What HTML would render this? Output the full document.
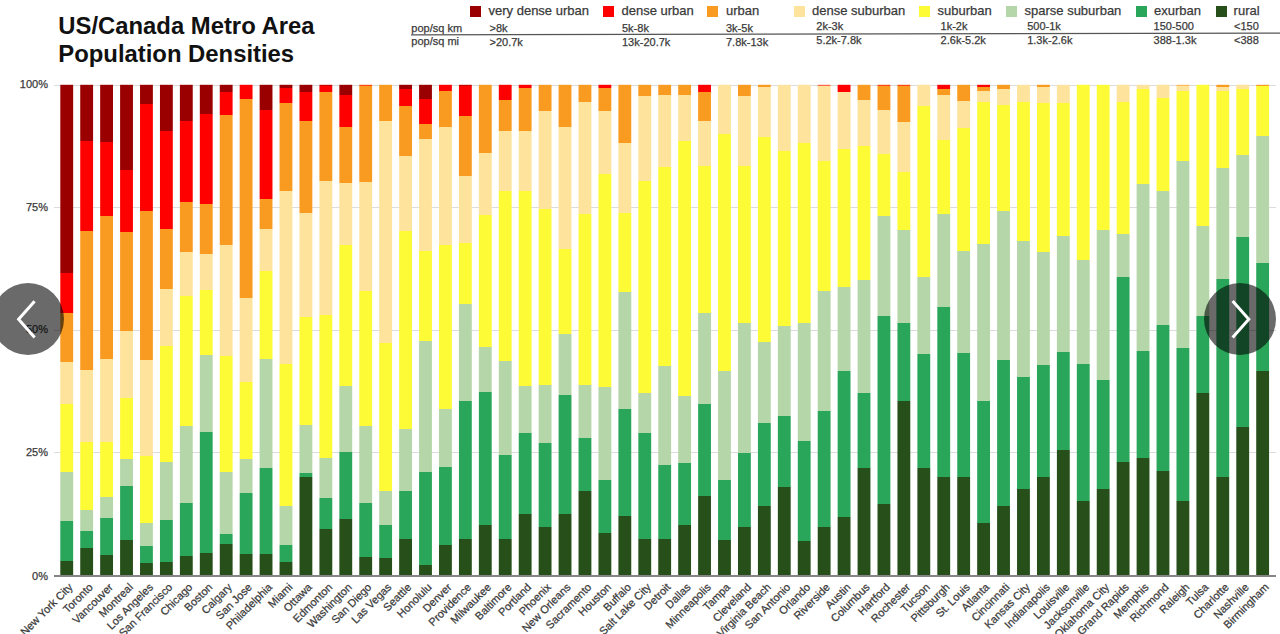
<!DOCTYPE html>
<html><head><meta charset="utf-8"><style>
*{margin:0;padding:0;box-sizing:border-box}
html,body{width:1280px;height:634px;overflow:hidden;background:#fff}
body{position:relative;font-family:"Liberation Sans",sans-serif;color:#3a3a3a}
.lg,.r1,.r2,.yl,.cl{-webkit-text-stroke:0.25px #3a3a3a}
.a{position:absolute;white-space:nowrap}
.t{position:absolute;left:58.3px;font-weight:bold;font-size:23.85px;color:#111;line-height:28px}
.sq{position:absolute;top:6px;width:11px;height:11px}
.lg{position:absolute;top:3px;font-size:13px;line-height:16px;color:#3a3a3a}
.r1,.r2{position:absolute;font-size:11px;line-height:13px;color:#3a3a3a}
.g{position:absolute;left:54px;width:1222px;height:1px;background:#dcdcdc}
.yl{position:absolute;width:40px;left:8px;text-align:right;font-size:11px;line-height:13px;color:#3a3a3a}
.b{position:absolute;width:12.85px}
.s{position:absolute;left:0;width:100%}
.cl{position:absolute;white-space:nowrap;font-size:11px;line-height:14px;color:#3a3a3a;transform-origin:100% 50%;transform:rotate(-45deg);text-align:right}
</style></head><body>

<div class="t" style="top:12px">US/Canada Metro Area</div>
<div class="t" style="top:40px">Population Densities</div>
<div class="sq" style="left:470.0px;background:#9b0000"></div>
<div class="lg" style="left:488.5px">very dense urban</div>
<div class="r1" style="left:489.5px;top:21.9px">&gt;8k</div>
<div class="r2" style="left:489.5px;top:35.6px">&gt;20.7k</div>
<div class="sq" style="left:603.0px;background:#ff0000"></div>
<div class="lg" style="left:621.5px">dense urban</div>
<div class="r1" style="left:622.0px;top:21.9px">5k-8k</div>
<div class="r2" style="left:622.0px;top:35.6px">13k-20.7k</div>
<div class="sq" style="left:707.0px;background:#f99b21"></div>
<div class="lg" style="left:726.0px">urban</div>
<div class="r1" style="left:726.0px;top:21.9px">3k-5k</div>
<div class="r2" style="left:726.0px;top:35.6px">7.8k-13k</div>
<div class="sq" style="left:794.0px;background:#fde39b"></div>
<div class="lg" style="left:812.0px">dense suburban</div>
<div class="r1" style="left:816.3px;top:20.1px">2k-3k</div>
<div class="r2" style="left:816.3px;top:33.9px">5.2k-7.8k</div>
<div class="sq" style="left:919.0px;background:#fdfb35"></div>
<div class="lg" style="left:937.5px">suburban</div>
<div class="r1" style="left:940.6px;top:20.1px">1k-2k</div>
<div class="r2" style="left:940.6px;top:33.9px">2.6k-5.2k</div>
<div class="sq" style="left:1006.0px;background:#b5d6a8"></div>
<div class="lg" style="left:1024.5px">sparse suburban</div>
<div class="r1" style="left:1027.2px;top:20.1px">500-1k</div>
<div class="r2" style="left:1027.2px;top:33.9px">1.3k-2.6k</div>
<div class="sq" style="left:1135.6px;background:#2aa65a"></div>
<div class="lg" style="left:1154.0px">exurban</div>
<div class="r1" style="left:1153.6px;top:20.1px">150-500</div>
<div class="r2" style="left:1153.6px;top:33.9px">388-1.3k</div>
<div class="sq" style="left:1215.5px;background:#264f19"></div>
<div class="lg" style="left:1233.6px">rural</div>
<div class="r1" style="left:1234.0px;top:20.1px">&lt;150</div>
<div class="r2" style="left:1234.0px;top:33.9px">&lt;388</div>
<div class="r1" style="left:411.3px;top:21.6px">pop/sq km</div>
<div class="r2" style="left:411.3px;top:35.4px">pop/sq mi</div>
<svg class="a" style="left:0;top:0" width="1280" height="60"><line x1="411" y1="34.9" x2="1280" y2="33.1" stroke="#555" stroke-width="1.3"/></svg>
<div class="g" style="top:84.5px"></div>
<div class="yl" style="top:78.0px">100%</div>
<div class="g" style="top:207.0px"></div>
<div class="yl" style="top:200.5px">75%</div>
<div class="g" style="top:329.8px"></div>
<div class="yl" style="top:323.3px">50%</div>
<div class="g" style="top:452.2px"></div>
<div class="yl" style="top:445.7px">25%</div>
<div class="yl" style="top:569.5px">0%</div>
<svg class="a" style="left:0;top:0" width="1280" height="634" viewBox="0 0 1280 634"><defs><linearGradient id="g0" x1="0" y1="0" x2="0" y2="1"><stop offset="0.00000" stop-color="#9b0000"/><stop offset="0.38328" stop-color="#9b0000"/><stop offset="0.38328" stop-color="#ff0000"/><stop offset="0.46565" stop-color="#ff0000"/><stop offset="0.46565" stop-color="#f99b21"/><stop offset="0.56595" stop-color="#f99b21"/><stop offset="0.56595" stop-color="#fde39b"/><stop offset="0.65138" stop-color="#fde39b"/><stop offset="0.65138" stop-color="#fdfb35"/><stop offset="0.79021" stop-color="#fdfb35"/><stop offset="0.79021" stop-color="#b5d6a8"/><stop offset="0.88970" stop-color="#b5d6a8"/><stop offset="0.88970" stop-color="#2aa65a"/><stop offset="0.97023" stop-color="#2aa65a"/><stop offset="0.97023" stop-color="#264f19"/><stop offset="1.00000" stop-color="#264f19"/></linearGradient><linearGradient id="g1" x1="0" y1="0" x2="0" y2="1"><stop offset="0.00000" stop-color="#9b0000"/><stop offset="0.11376" stop-color="#9b0000"/><stop offset="0.11376" stop-color="#ff0000"/><stop offset="0.29745" stop-color="#ff0000"/><stop offset="0.29745" stop-color="#f99b21"/><stop offset="0.58145" stop-color="#f99b21"/><stop offset="0.58145" stop-color="#fde39b"/><stop offset="0.72824" stop-color="#fde39b"/><stop offset="0.72824" stop-color="#fdfb35"/><stop offset="0.86728" stop-color="#fdfb35"/><stop offset="0.86728" stop-color="#b5d6a8"/><stop offset="0.91009" stop-color="#b5d6a8"/><stop offset="0.91009" stop-color="#2aa65a"/><stop offset="0.94353" stop-color="#2aa65a"/><stop offset="0.94353" stop-color="#264f19"/><stop offset="1.00000" stop-color="#264f19"/></linearGradient><linearGradient id="g2" x1="0" y1="0" x2="0" y2="1"><stop offset="0.00000" stop-color="#9b0000"/><stop offset="0.11723" stop-color="#9b0000"/><stop offset="0.11723" stop-color="#ff0000"/><stop offset="0.26809" stop-color="#ff0000"/><stop offset="0.26809" stop-color="#f99b21"/><stop offset="0.55984" stop-color="#f99b21"/><stop offset="0.55984" stop-color="#fde39b"/><stop offset="0.72762" stop-color="#fde39b"/><stop offset="0.72762" stop-color="#fdfb35"/><stop offset="0.84057" stop-color="#fdfb35"/><stop offset="0.84057" stop-color="#b5d6a8"/><stop offset="0.88400" stop-color="#b5d6a8"/><stop offset="0.88400" stop-color="#2aa65a"/><stop offset="0.95923" stop-color="#2aa65a"/><stop offset="0.95923" stop-color="#264f19"/><stop offset="1.00000" stop-color="#264f19"/></linearGradient><linearGradient id="g3" x1="0" y1="0" x2="0" y2="1"><stop offset="0.00000" stop-color="#9b0000"/><stop offset="0.17390" stop-color="#9b0000"/><stop offset="0.17390" stop-color="#ff0000"/><stop offset="0.29990" stop-color="#ff0000"/><stop offset="0.29990" stop-color="#f99b21"/><stop offset="0.50173" stop-color="#f99b21"/><stop offset="0.50173" stop-color="#fde39b"/><stop offset="0.63792" stop-color="#fde39b"/><stop offset="0.63792" stop-color="#fdfb35"/><stop offset="0.76310" stop-color="#fdfb35"/><stop offset="0.76310" stop-color="#b5d6a8"/><stop offset="0.81794" stop-color="#b5d6a8"/><stop offset="0.81794" stop-color="#2aa65a"/><stop offset="0.92864" stop-color="#2aa65a"/><stop offset="0.92864" stop-color="#264f19"/><stop offset="1.00000" stop-color="#264f19"/></linearGradient><linearGradient id="g4" x1="0" y1="0" x2="0" y2="1"><stop offset="0.00000" stop-color="#9b0000"/><stop offset="0.03833" stop-color="#9b0000"/><stop offset="0.03833" stop-color="#ff0000"/><stop offset="0.25627" stop-color="#ff0000"/><stop offset="0.25627" stop-color="#f99b21"/><stop offset="0.56188" stop-color="#f99b21"/><stop offset="0.56188" stop-color="#fde39b"/><stop offset="0.75657" stop-color="#fde39b"/><stop offset="0.75657" stop-color="#fdfb35"/><stop offset="0.89317" stop-color="#fdfb35"/><stop offset="0.89317" stop-color="#b5d6a8"/><stop offset="0.94006" stop-color="#b5d6a8"/><stop offset="0.94006" stop-color="#2aa65a"/><stop offset="0.97554" stop-color="#2aa65a"/><stop offset="0.97554" stop-color="#264f19"/><stop offset="1.00000" stop-color="#264f19"/></linearGradient><linearGradient id="g5" x1="0" y1="0" x2="0" y2="1"><stop offset="0.00000" stop-color="#9b0000"/><stop offset="0.09337" stop-color="#9b0000"/><stop offset="0.09337" stop-color="#ff0000"/><stop offset="0.29378" stop-color="#ff0000"/><stop offset="0.29378" stop-color="#f99b21"/><stop offset="0.41672" stop-color="#f99b21"/><stop offset="0.41672" stop-color="#fde39b"/><stop offset="0.53252" stop-color="#fde39b"/><stop offset="0.53252" stop-color="#fdfb35"/><stop offset="0.76881" stop-color="#fdfb35"/><stop offset="0.76881" stop-color="#b5d6a8"/><stop offset="0.88746" stop-color="#b5d6a8"/><stop offset="0.88746" stop-color="#2aa65a"/><stop offset="0.97370" stop-color="#2aa65a"/><stop offset="0.97370" stop-color="#264f19"/><stop offset="1.00000" stop-color="#264f19"/></linearGradient><linearGradient id="g6" x1="0" y1="0" x2="0" y2="1"><stop offset="0.00000" stop-color="#9b0000"/><stop offset="0.07401" stop-color="#9b0000"/><stop offset="0.07401" stop-color="#ff0000"/><stop offset="0.23812" stop-color="#ff0000"/><stop offset="0.23812" stop-color="#f99b21"/><stop offset="0.34108" stop-color="#f99b21"/><stop offset="0.34108" stop-color="#fde39b"/><stop offset="0.43119" stop-color="#fde39b"/><stop offset="0.43119" stop-color="#fdfb35"/><stop offset="0.69582" stop-color="#fdfb35"/><stop offset="0.69582" stop-color="#b5d6a8"/><stop offset="0.85219" stop-color="#b5d6a8"/><stop offset="0.85219" stop-color="#2aa65a"/><stop offset="0.96045" stop-color="#2aa65a"/><stop offset="0.96045" stop-color="#264f19"/><stop offset="1.00000" stop-color="#264f19"/></linearGradient><linearGradient id="g7" x1="0" y1="0" x2="0" y2="1"><stop offset="0.00000" stop-color="#9b0000"/><stop offset="0.05872" stop-color="#9b0000"/><stop offset="0.05872" stop-color="#ff0000"/><stop offset="0.24343" stop-color="#ff0000"/><stop offset="0.24343" stop-color="#f99b21"/><stop offset="0.34475" stop-color="#f99b21"/><stop offset="0.34475" stop-color="#fde39b"/><stop offset="0.41835" stop-color="#fde39b"/><stop offset="0.41835" stop-color="#fdfb35"/><stop offset="0.55046" stop-color="#fdfb35"/><stop offset="0.55046" stop-color="#b5d6a8"/><stop offset="0.70744" stop-color="#b5d6a8"/><stop offset="0.70744" stop-color="#2aa65a"/><stop offset="0.95515" stop-color="#2aa65a"/><stop offset="0.95515" stop-color="#264f19"/><stop offset="1.00000" stop-color="#264f19"/></linearGradient><linearGradient id="g8" x1="0" y1="0" x2="0" y2="1"><stop offset="0.00000" stop-color="#9b0000"/><stop offset="0.01529" stop-color="#9b0000"/><stop offset="0.01529" stop-color="#ff0000"/><stop offset="0.06075" stop-color="#ff0000"/><stop offset="0.06075" stop-color="#f99b21"/><stop offset="0.32559" stop-color="#f99b21"/><stop offset="0.32559" stop-color="#fde39b"/><stop offset="0.55209" stop-color="#fde39b"/><stop offset="0.55209" stop-color="#fdfb35"/><stop offset="0.79021" stop-color="#fdfb35"/><stop offset="0.79021" stop-color="#b5d6a8"/><stop offset="0.91580" stop-color="#b5d6a8"/><stop offset="0.91580" stop-color="#2aa65a"/><stop offset="0.93619" stop-color="#2aa65a"/><stop offset="0.93619" stop-color="#264f19"/><stop offset="1.00000" stop-color="#264f19"/></linearGradient><linearGradient id="g9" x1="0" y1="0" x2="0" y2="1"><stop offset="0.00000" stop-color="#ff0000"/><stop offset="0.02895" stop-color="#ff0000"/><stop offset="0.02895" stop-color="#f99b21"/><stop offset="0.43364" stop-color="#f99b21"/><stop offset="0.43364" stop-color="#fde39b"/><stop offset="0.60612" stop-color="#fde39b"/><stop offset="0.60612" stop-color="#fdfb35"/><stop offset="0.76310" stop-color="#fdfb35"/><stop offset="0.76310" stop-color="#b5d6a8"/><stop offset="0.83242" stop-color="#b5d6a8"/><stop offset="0.83242" stop-color="#2aa65a"/><stop offset="0.95698" stop-color="#2aa65a"/><stop offset="0.95698" stop-color="#264f19"/><stop offset="1.00000" stop-color="#264f19"/></linearGradient><linearGradient id="g10" x1="0" y1="0" x2="0" y2="1"><stop offset="0.00000" stop-color="#9b0000"/><stop offset="0.05117" stop-color="#9b0000"/><stop offset="0.05117" stop-color="#ff0000"/><stop offset="0.23201" stop-color="#ff0000"/><stop offset="0.23201" stop-color="#f99b21"/><stop offset="0.29378" stop-color="#f99b21"/><stop offset="0.29378" stop-color="#fde39b"/><stop offset="0.38063" stop-color="#fde39b"/><stop offset="0.38063" stop-color="#fdfb35"/><stop offset="0.55984" stop-color="#fdfb35"/><stop offset="0.55984" stop-color="#b5d6a8"/><stop offset="0.78043" stop-color="#b5d6a8"/><stop offset="0.78043" stop-color="#2aa65a"/><stop offset="0.95698" stop-color="#2aa65a"/><stop offset="0.95698" stop-color="#264f19"/><stop offset="1.00000" stop-color="#264f19"/></linearGradient><linearGradient id="g11" x1="0" y1="0" x2="0" y2="1"><stop offset="0.00000" stop-color="#9b0000"/><stop offset="0.00754" stop-color="#9b0000"/><stop offset="0.00754" stop-color="#ff0000"/><stop offset="0.03812" stop-color="#ff0000"/><stop offset="0.03812" stop-color="#f99b21"/><stop offset="0.21651" stop-color="#f99b21"/><stop offset="0.21651" stop-color="#fde39b"/><stop offset="0.56860" stop-color="#fde39b"/><stop offset="0.56860" stop-color="#fdfb35"/><stop offset="0.85973" stop-color="#fdfb35"/><stop offset="0.85973" stop-color="#b5d6a8"/><stop offset="0.93904" stop-color="#b5d6a8"/><stop offset="0.93904" stop-color="#2aa65a"/><stop offset="0.97248" stop-color="#2aa65a"/><stop offset="0.97248" stop-color="#264f19"/><stop offset="1.00000" stop-color="#264f19"/></linearGradient><linearGradient id="g12" x1="0" y1="0" x2="0" y2="1"><stop offset="0.00000" stop-color="#9b0000"/><stop offset="0.01529" stop-color="#9b0000"/><stop offset="0.01529" stop-color="#ff0000"/><stop offset="0.07360" stop-color="#ff0000"/><stop offset="0.07360" stop-color="#f99b21"/><stop offset="0.26177" stop-color="#f99b21"/><stop offset="0.26177" stop-color="#fde39b"/><stop offset="0.47339" stop-color="#fde39b"/><stop offset="0.47339" stop-color="#fdfb35"/><stop offset="0.69297" stop-color="#fdfb35"/><stop offset="0.69297" stop-color="#b5d6a8"/><stop offset="0.79144" stop-color="#b5d6a8"/><stop offset="0.79144" stop-color="#2aa65a"/><stop offset="0.79898" stop-color="#2aa65a"/><stop offset="0.79898" stop-color="#264f19"/><stop offset="1.00000" stop-color="#264f19"/></linearGradient><linearGradient id="g13" x1="0" y1="0" x2="0" y2="1"><stop offset="0.00000" stop-color="#c80000"/><stop offset="0.00163" stop-color="#c80000"/><stop offset="0.00163" stop-color="#ff0000"/><stop offset="0.01366" stop-color="#ff0000"/><stop offset="0.01366" stop-color="#f99b21"/><stop offset="0.19613" stop-color="#f99b21"/><stop offset="0.19613" stop-color="#fde39b"/><stop offset="0.46932" stop-color="#fde39b"/><stop offset="0.46932" stop-color="#fdfb35"/><stop offset="0.76126" stop-color="#fdfb35"/><stop offset="0.76126" stop-color="#b5d6a8"/><stop offset="0.84241" stop-color="#b5d6a8"/><stop offset="0.84241" stop-color="#2aa65a"/><stop offset="0.90601" stop-color="#2aa65a"/><stop offset="0.90601" stop-color="#264f19"/><stop offset="1.00000" stop-color="#264f19"/></linearGradient><linearGradient id="g14" x1="0" y1="0" x2="0" y2="1"><stop offset="0.00000" stop-color="#9b0000"/><stop offset="0.02039" stop-color="#9b0000"/><stop offset="0.02039" stop-color="#ff0000"/><stop offset="0.08665" stop-color="#ff0000"/><stop offset="0.08665" stop-color="#f99b21"/><stop offset="0.19959" stop-color="#f99b21"/><stop offset="0.19959" stop-color="#fde39b"/><stop offset="0.32559" stop-color="#fde39b"/><stop offset="0.32559" stop-color="#fdfb35"/><stop offset="0.61488" stop-color="#fdfb35"/><stop offset="0.61488" stop-color="#b5d6a8"/><stop offset="0.74964" stop-color="#b5d6a8"/><stop offset="0.74964" stop-color="#2aa65a"/><stop offset="0.88563" stop-color="#2aa65a"/><stop offset="0.88563" stop-color="#264f19"/><stop offset="1.00000" stop-color="#264f19"/></linearGradient><linearGradient id="g15" x1="0" y1="0" x2="0" y2="1"><stop offset="0.00000" stop-color="#fc460f"/><stop offset="0.00204" stop-color="#fc460f"/><stop offset="0.00204" stop-color="#f99b21"/><stop offset="0.19857" stop-color="#f99b21"/><stop offset="0.19857" stop-color="#fde39b"/><stop offset="0.42080" stop-color="#fde39b"/><stop offset="0.42080" stop-color="#fdfb35"/><stop offset="0.69582" stop-color="#fdfb35"/><stop offset="0.69582" stop-color="#b5d6a8"/><stop offset="0.85219" stop-color="#b5d6a8"/><stop offset="0.85219" stop-color="#2aa65a"/><stop offset="0.96208" stop-color="#2aa65a"/><stop offset="0.96208" stop-color="#264f19"/><stop offset="1.00000" stop-color="#264f19"/></linearGradient><linearGradient id="g16" x1="0" y1="0" x2="0" y2="1"><stop offset="0.00000" stop-color="#f99b21"/><stop offset="0.07360" stop-color="#f99b21"/><stop offset="0.07360" stop-color="#fde39b"/><stop offset="0.52742" stop-color="#fde39b"/><stop offset="0.52742" stop-color="#fdfb35"/><stop offset="0.82793" stop-color="#fdfb35"/><stop offset="0.82793" stop-color="#b5d6a8"/><stop offset="0.89847" stop-color="#b5d6a8"/><stop offset="0.89847" stop-color="#2aa65a"/><stop offset="0.96453" stop-color="#2aa65a"/><stop offset="0.96453" stop-color="#264f19"/><stop offset="1.00000" stop-color="#264f19"/></linearGradient><linearGradient id="g17" x1="0" y1="0" x2="0" y2="1"><stop offset="0.00000" stop-color="#9b0000"/><stop offset="0.00815" stop-color="#9b0000"/><stop offset="0.00815" stop-color="#ff0000"/><stop offset="0.04424" stop-color="#ff0000"/><stop offset="0.04424" stop-color="#f99b21"/><stop offset="0.14557" stop-color="#f99b21"/><stop offset="0.14557" stop-color="#fde39b"/><stop offset="0.29888" stop-color="#fde39b"/><stop offset="0.29888" stop-color="#fdfb35"/><stop offset="0.70173" stop-color="#fdfb35"/><stop offset="0.70173" stop-color="#b5d6a8"/><stop offset="0.82793" stop-color="#b5d6a8"/><stop offset="0.82793" stop-color="#2aa65a"/><stop offset="0.92518" stop-color="#2aa65a"/><stop offset="0.92518" stop-color="#264f19"/><stop offset="1.00000" stop-color="#264f19"/></linearGradient><linearGradient id="g18" x1="0" y1="0" x2="0" y2="1"><stop offset="0.00000" stop-color="#9b0000"/><stop offset="0.02895" stop-color="#9b0000"/><stop offset="0.02895" stop-color="#ff0000"/><stop offset="0.07931" stop-color="#ff0000"/><stop offset="0.07931" stop-color="#f99b21"/><stop offset="0.11009" stop-color="#f99b21"/><stop offset="0.11009" stop-color="#fde39b"/><stop offset="0.33802" stop-color="#fde39b"/><stop offset="0.33802" stop-color="#fdfb35"/><stop offset="0.52232" stop-color="#fdfb35"/><stop offset="0.52232" stop-color="#b5d6a8"/><stop offset="0.78838" stop-color="#b5d6a8"/><stop offset="0.78838" stop-color="#2aa65a"/><stop offset="0.97839" stop-color="#2aa65a"/><stop offset="0.97839" stop-color="#264f19"/><stop offset="1.00000" stop-color="#264f19"/></linearGradient><linearGradient id="g19" x1="0" y1="0" x2="0" y2="1"><stop offset="0.00000" stop-color="#ff0000"/><stop offset="0.01182" stop-color="#ff0000"/><stop offset="0.01182" stop-color="#f99b21"/><stop offset="0.08685" stop-color="#f99b21"/><stop offset="0.08685" stop-color="#fde39b"/><stop offset="0.32661" stop-color="#fde39b"/><stop offset="0.32661" stop-color="#fdfb35"/><stop offset="0.66177" stop-color="#fdfb35"/><stop offset="0.66177" stop-color="#b5d6a8"/><stop offset="0.77859" stop-color="#b5d6a8"/><stop offset="0.77859" stop-color="#2aa65a"/><stop offset="0.93782" stop-color="#2aa65a"/><stop offset="0.93782" stop-color="#264f19"/><stop offset="1.00000" stop-color="#264f19"/></linearGradient><linearGradient id="g20" x1="0" y1="0" x2="0" y2="1"><stop offset="0.00000" stop-color="#c80000"/><stop offset="0.00204" stop-color="#c80000"/><stop offset="0.00204" stop-color="#ff0000"/><stop offset="0.06259" stop-color="#ff0000"/><stop offset="0.06259" stop-color="#f99b21"/><stop offset="0.18675" stop-color="#f99b21"/><stop offset="0.18675" stop-color="#fde39b"/><stop offset="0.32151" stop-color="#fde39b"/><stop offset="0.32151" stop-color="#fdfb35"/><stop offset="0.44771" stop-color="#fdfb35"/><stop offset="0.44771" stop-color="#b5d6a8"/><stop offset="0.64546" stop-color="#b5d6a8"/><stop offset="0.64546" stop-color="#2aa65a"/><stop offset="0.92518" stop-color="#2aa65a"/><stop offset="0.92518" stop-color="#264f19"/><stop offset="1.00000" stop-color="#264f19"/></linearGradient><linearGradient id="g21" x1="0" y1="0" x2="0" y2="1"><stop offset="0.00000" stop-color="#f99b21"/><stop offset="0.13843" stop-color="#f99b21"/><stop offset="0.13843" stop-color="#fde39b"/><stop offset="0.26646" stop-color="#fde39b"/><stop offset="0.26646" stop-color="#fdfb35"/><stop offset="0.53415" stop-color="#fdfb35"/><stop offset="0.53415" stop-color="#b5d6a8"/><stop offset="0.62610" stop-color="#b5d6a8"/><stop offset="0.62610" stop-color="#2aa65a"/><stop offset="0.89847" stop-color="#2aa65a"/><stop offset="0.89847" stop-color="#264f19"/><stop offset="1.00000" stop-color="#264f19"/></linearGradient><linearGradient id="g22" x1="0" y1="0" x2="0" y2="1"><stop offset="0.00000" stop-color="#ff0000"/><stop offset="0.03038" stop-color="#ff0000"/><stop offset="0.03038" stop-color="#f99b21"/><stop offset="0.09439" stop-color="#f99b21"/><stop offset="0.09439" stop-color="#fde39b"/><stop offset="0.21651" stop-color="#fde39b"/><stop offset="0.21651" stop-color="#fdfb35"/><stop offset="0.56228" stop-color="#fdfb35"/><stop offset="0.56228" stop-color="#b5d6a8"/><stop offset="0.75433" stop-color="#b5d6a8"/><stop offset="0.75433" stop-color="#2aa65a"/><stop offset="0.92620" stop-color="#2aa65a"/><stop offset="0.92620" stop-color="#264f19"/><stop offset="1.00000" stop-color="#264f19"/></linearGradient><linearGradient id="g23" x1="0" y1="0" x2="0" y2="1"><stop offset="0.00000" stop-color="#ff0000"/><stop offset="0.00591" stop-color="#ff0000"/><stop offset="0.00591" stop-color="#f99b21"/><stop offset="0.09439" stop-color="#f99b21"/><stop offset="0.09439" stop-color="#fde39b"/><stop offset="0.21651" stop-color="#fde39b"/><stop offset="0.21651" stop-color="#fdfb35"/><stop offset="0.61325" stop-color="#fdfb35"/><stop offset="0.61325" stop-color="#b5d6a8"/><stop offset="0.70928" stop-color="#b5d6a8"/><stop offset="0.70928" stop-color="#2aa65a"/><stop offset="0.87421" stop-color="#2aa65a"/><stop offset="0.87421" stop-color="#264f19"/><stop offset="1.00000" stop-color="#264f19"/></linearGradient><linearGradient id="g24" x1="0" y1="0" x2="0" y2="1"><stop offset="0.00000" stop-color="#f99b21"/><stop offset="0.05341" stop-color="#f99b21"/><stop offset="0.05341" stop-color="#fde39b"/><stop offset="0.25423" stop-color="#fde39b"/><stop offset="0.25423" stop-color="#fdfb35"/><stop offset="0.61121" stop-color="#fdfb35"/><stop offset="0.61121" stop-color="#b5d6a8"/><stop offset="0.72946" stop-color="#b5d6a8"/><stop offset="0.72946" stop-color="#2aa65a"/><stop offset="0.90194" stop-color="#2aa65a"/><stop offset="0.90194" stop-color="#264f19"/><stop offset="1.00000" stop-color="#264f19"/></linearGradient><linearGradient id="g25" x1="0" y1="0" x2="0" y2="1"><stop offset="0.00000" stop-color="#f99b21"/><stop offset="0.08542" stop-color="#f99b21"/><stop offset="0.08542" stop-color="#fde39b"/><stop offset="0.33537" stop-color="#fde39b"/><stop offset="0.33537" stop-color="#fdfb35"/><stop offset="0.50785" stop-color="#fdfb35"/><stop offset="0.50785" stop-color="#b5d6a8"/><stop offset="0.63282" stop-color="#b5d6a8"/><stop offset="0.63282" stop-color="#2aa65a"/><stop offset="0.87421" stop-color="#2aa65a"/><stop offset="0.87421" stop-color="#264f19"/><stop offset="1.00000" stop-color="#264f19"/></linearGradient><linearGradient id="g26" x1="0" y1="0" x2="0" y2="1"><stop offset="0.00000" stop-color="#f99b21"/><stop offset="0.03466" stop-color="#f99b21"/><stop offset="0.03466" stop-color="#fde39b"/><stop offset="0.26402" stop-color="#fde39b"/><stop offset="0.26402" stop-color="#fdfb35"/><stop offset="0.61121" stop-color="#fdfb35"/><stop offset="0.61121" stop-color="#b5d6a8"/><stop offset="0.71967" stop-color="#b5d6a8"/><stop offset="0.71967" stop-color="#2aa65a"/><stop offset="0.82895" stop-color="#2aa65a"/><stop offset="0.82895" stop-color="#264f19"/><stop offset="1.00000" stop-color="#264f19"/></linearGradient><linearGradient id="g27" x1="0" y1="0" x2="0" y2="1"><stop offset="0.00000" stop-color="#ff0000"/><stop offset="0.00591" stop-color="#ff0000"/><stop offset="0.00591" stop-color="#f99b21"/><stop offset="0.05341" stop-color="#f99b21"/><stop offset="0.05341" stop-color="#fde39b"/><stop offset="0.18165" stop-color="#fde39b"/><stop offset="0.18165" stop-color="#fdfb35"/><stop offset="0.61631" stop-color="#fdfb35"/><stop offset="0.61631" stop-color="#b5d6a8"/><stop offset="0.80469" stop-color="#b5d6a8"/><stop offset="0.80469" stop-color="#2aa65a"/><stop offset="0.91356" stop-color="#2aa65a"/><stop offset="0.91356" stop-color="#264f19"/><stop offset="1.00000" stop-color="#264f19"/></linearGradient><linearGradient id="g28" x1="0" y1="0" x2="0" y2="1"><stop offset="0.00000" stop-color="#f99b21"/><stop offset="0.11886" stop-color="#f99b21"/><stop offset="0.11886" stop-color="#fde39b"/><stop offset="0.26177" stop-color="#fde39b"/><stop offset="0.26177" stop-color="#fdfb35"/><stop offset="0.42283" stop-color="#fdfb35"/><stop offset="0.42283" stop-color="#b5d6a8"/><stop offset="0.66177" stop-color="#b5d6a8"/><stop offset="0.66177" stop-color="#2aa65a"/><stop offset="0.87829" stop-color="#2aa65a"/><stop offset="0.87829" stop-color="#264f19"/><stop offset="1.00000" stop-color="#264f19"/></linearGradient><linearGradient id="g29" x1="0" y1="0" x2="0" y2="1"><stop offset="0.00000" stop-color="#f99b21"/><stop offset="0.02345" stop-color="#f99b21"/><stop offset="0.02345" stop-color="#fde39b"/><stop offset="0.19613" stop-color="#fde39b"/><stop offset="0.19613" stop-color="#fdfb35"/><stop offset="0.62773" stop-color="#fdfb35"/><stop offset="0.62773" stop-color="#b5d6a8"/><stop offset="0.70928" stop-color="#b5d6a8"/><stop offset="0.70928" stop-color="#2aa65a"/><stop offset="0.92620" stop-color="#2aa65a"/><stop offset="0.92620" stop-color="#264f19"/><stop offset="1.00000" stop-color="#264f19"/></linearGradient><linearGradient id="g30" x1="0" y1="0" x2="0" y2="1"><stop offset="0.00000" stop-color="#f99b21"/><stop offset="0.02120" stop-color="#f99b21"/><stop offset="0.02120" stop-color="#fde39b"/><stop offset="0.16677" stop-color="#fde39b"/><stop offset="0.16677" stop-color="#fdfb35"/><stop offset="0.57268" stop-color="#fdfb35"/><stop offset="0.57268" stop-color="#b5d6a8"/><stop offset="0.77452" stop-color="#b5d6a8"/><stop offset="0.77452" stop-color="#2aa65a"/><stop offset="0.92559" stop-color="#2aa65a"/><stop offset="0.92559" stop-color="#264f19"/><stop offset="1.00000" stop-color="#264f19"/></linearGradient><linearGradient id="g31" x1="0" y1="0" x2="0" y2="1"><stop offset="0.00000" stop-color="#f99b21"/><stop offset="0.02120" stop-color="#f99b21"/><stop offset="0.02120" stop-color="#fde39b"/><stop offset="0.11376" stop-color="#fde39b"/><stop offset="0.11376" stop-color="#fdfb35"/><stop offset="0.63547" stop-color="#fdfb35"/><stop offset="0.63547" stop-color="#b5d6a8"/><stop offset="0.77105" stop-color="#b5d6a8"/><stop offset="0.77105" stop-color="#2aa65a"/><stop offset="0.89847" stop-color="#2aa65a"/><stop offset="0.89847" stop-color="#264f19"/><stop offset="1.00000" stop-color="#264f19"/></linearGradient><linearGradient id="g32" x1="0" y1="0" x2="0" y2="1"><stop offset="0.00000" stop-color="#ff0000"/><stop offset="0.01366" stop-color="#ff0000"/><stop offset="0.01366" stop-color="#f99b21"/><stop offset="0.07360" stop-color="#f99b21"/><stop offset="0.07360" stop-color="#fde39b"/><stop offset="0.16514" stop-color="#fde39b"/><stop offset="0.16514" stop-color="#fdfb35"/><stop offset="0.46565" stop-color="#fdfb35"/><stop offset="0.46565" stop-color="#b5d6a8"/><stop offset="0.65138" stop-color="#b5d6a8"/><stop offset="0.65138" stop-color="#2aa65a"/><stop offset="0.83833" stop-color="#2aa65a"/><stop offset="0.83833" stop-color="#264f19"/><stop offset="1.00000" stop-color="#264f19"/></linearGradient><linearGradient id="g33" x1="0" y1="0" x2="0" y2="1"><stop offset="0.00000" stop-color="#fde39b"/><stop offset="0.10031" stop-color="#fde39b"/><stop offset="0.10031" stop-color="#fdfb35"/><stop offset="0.58389" stop-color="#fdfb35"/><stop offset="0.58389" stop-color="#b5d6a8"/><stop offset="0.80652" stop-color="#b5d6a8"/><stop offset="0.80652" stop-color="#2aa65a"/><stop offset="0.92905" stop-color="#2aa65a"/><stop offset="0.92905" stop-color="#264f19"/><stop offset="1.00000" stop-color="#264f19"/></linearGradient><linearGradient id="g34" x1="0" y1="0" x2="0" y2="1"><stop offset="0.00000" stop-color="#f99b21"/><stop offset="0.02345" stop-color="#f99b21"/><stop offset="0.02345" stop-color="#fde39b"/><stop offset="0.16514" stop-color="#fde39b"/><stop offset="0.16514" stop-color="#fdfb35"/><stop offset="0.48461" stop-color="#fdfb35"/><stop offset="0.48461" stop-color="#b5d6a8"/><stop offset="0.75148" stop-color="#b5d6a8"/><stop offset="0.75148" stop-color="#2aa65a"/><stop offset="0.90194" stop-color="#2aa65a"/><stop offset="0.90194" stop-color="#264f19"/><stop offset="1.00000" stop-color="#264f19"/></linearGradient><linearGradient id="g35" x1="0" y1="0" x2="0" y2="1"><stop offset="0.00000" stop-color="#f99b21"/><stop offset="0.00428" stop-color="#f99b21"/><stop offset="0.00428" stop-color="#fde39b"/><stop offset="0.10601" stop-color="#fde39b"/><stop offset="0.10601" stop-color="#fdfb35"/><stop offset="0.52375" stop-color="#fdfb35"/><stop offset="0.52375" stop-color="#b5d6a8"/><stop offset="0.69011" stop-color="#b5d6a8"/><stop offset="0.69011" stop-color="#2aa65a"/><stop offset="0.85851" stop-color="#2aa65a"/><stop offset="0.85851" stop-color="#264f19"/><stop offset="1.00000" stop-color="#264f19"/></linearGradient><linearGradient id="g36" x1="0" y1="0" x2="0" y2="1"><stop offset="0.00000" stop-color="#fde39b"/><stop offset="0.13578" stop-color="#fde39b"/><stop offset="0.13578" stop-color="#fdfb35"/><stop offset="0.49235" stop-color="#fdfb35"/><stop offset="0.49235" stop-color="#b5d6a8"/><stop offset="0.67441" stop-color="#b5d6a8"/><stop offset="0.67441" stop-color="#2aa65a"/><stop offset="0.81916" stop-color="#2aa65a"/><stop offset="0.81916" stop-color="#264f19"/><stop offset="1.00000" stop-color="#264f19"/></linearGradient><linearGradient id="g37" x1="0" y1="0" x2="0" y2="1"><stop offset="0.00000" stop-color="#fde39b"/><stop offset="0.11886" stop-color="#fde39b"/><stop offset="0.11886" stop-color="#fdfb35"/><stop offset="0.48624" stop-color="#fdfb35"/><stop offset="0.48624" stop-color="#b5d6a8"/><stop offset="0.72538" stop-color="#b5d6a8"/><stop offset="0.72538" stop-color="#2aa65a"/><stop offset="0.93028" stop-color="#2aa65a"/><stop offset="0.93028" stop-color="#264f19"/><stop offset="1.00000" stop-color="#264f19"/></linearGradient><linearGradient id="g38" x1="0" y1="0" x2="0" y2="1"><stop offset="0.00000" stop-color="#fe6646"/><stop offset="0.00204" stop-color="#fe6646"/><stop offset="0.00204" stop-color="#fde39b"/><stop offset="0.15637" stop-color="#fde39b"/><stop offset="0.15637" stop-color="#fdfb35"/><stop offset="0.42080" stop-color="#fdfb35"/><stop offset="0.42080" stop-color="#b5d6a8"/><stop offset="0.66463" stop-color="#b5d6a8"/><stop offset="0.66463" stop-color="#2aa65a"/><stop offset="0.90194" stop-color="#2aa65a"/><stop offset="0.90194" stop-color="#264f19"/><stop offset="1.00000" stop-color="#264f19"/></linearGradient><linearGradient id="g39" x1="0" y1="0" x2="0" y2="1"><stop offset="0.00000" stop-color="#ff0000"/><stop offset="0.01366" stop-color="#ff0000"/><stop offset="0.01366" stop-color="#fde39b"/><stop offset="0.13170" stop-color="#fde39b"/><stop offset="0.13170" stop-color="#fdfb35"/><stop offset="0.41264" stop-color="#fdfb35"/><stop offset="0.41264" stop-color="#b5d6a8"/><stop offset="0.58389" stop-color="#b5d6a8"/><stop offset="0.58389" stop-color="#2aa65a"/><stop offset="0.88175" stop-color="#2aa65a"/><stop offset="0.88175" stop-color="#264f19"/><stop offset="1.00000" stop-color="#264f19"/></linearGradient><linearGradient id="g40" x1="0" y1="0" x2="0" y2="1"><stop offset="0.00000" stop-color="#f99b21"/><stop offset="0.03038" stop-color="#f99b21"/><stop offset="0.03038" stop-color="#fde39b"/><stop offset="0.12497" stop-color="#fde39b"/><stop offset="0.12497" stop-color="#fdfb35"/><stop offset="0.39715" stop-color="#fdfb35"/><stop offset="0.39715" stop-color="#b5d6a8"/><stop offset="0.62773" stop-color="#b5d6a8"/><stop offset="0.62773" stop-color="#2aa65a"/><stop offset="0.78145" stop-color="#2aa65a"/><stop offset="0.78145" stop-color="#264f19"/><stop offset="1.00000" stop-color="#264f19"/></linearGradient><linearGradient id="g41" x1="0" y1="0" x2="0" y2="1"><stop offset="0.00000" stop-color="#fc460f"/><stop offset="0.00204" stop-color="#fc460f"/><stop offset="0.00204" stop-color="#f99b21"/><stop offset="0.05138" stop-color="#f99b21"/><stop offset="0.05138" stop-color="#fde39b"/><stop offset="0.14190" stop-color="#fde39b"/><stop offset="0.14190" stop-color="#fdfb35"/><stop offset="0.26809" stop-color="#fdfb35"/><stop offset="0.26809" stop-color="#b5d6a8"/><stop offset="0.47074" stop-color="#b5d6a8"/><stop offset="0.47074" stop-color="#2aa65a"/><stop offset="0.85382" stop-color="#2aa65a"/><stop offset="0.85382" stop-color="#264f19"/><stop offset="1.00000" stop-color="#264f19"/></linearGradient><linearGradient id="g42" x1="0" y1="0" x2="0" y2="1"><stop offset="0.00000" stop-color="#fc460f"/><stop offset="0.00204" stop-color="#fc460f"/><stop offset="0.00204" stop-color="#f99b21"/><stop offset="0.07543" stop-color="#f99b21"/><stop offset="0.07543" stop-color="#fde39b"/><stop offset="0.17696" stop-color="#fde39b"/><stop offset="0.17696" stop-color="#fdfb35"/><stop offset="0.29643" stop-color="#fdfb35"/><stop offset="0.29643" stop-color="#b5d6a8"/><stop offset="0.48624" stop-color="#b5d6a8"/><stop offset="0.48624" stop-color="#2aa65a"/><stop offset="0.64444" stop-color="#2aa65a"/><stop offset="0.64444" stop-color="#264f19"/><stop offset="1.00000" stop-color="#264f19"/></linearGradient><linearGradient id="g43" x1="0" y1="0" x2="0" y2="1"><stop offset="0.00000" stop-color="#fde39b"/><stop offset="0.04424" stop-color="#fde39b"/><stop offset="0.04424" stop-color="#fdfb35"/><stop offset="0.39266" stop-color="#fdfb35"/><stop offset="0.39266" stop-color="#b5d6a8"/><stop offset="0.54903" stop-color="#b5d6a8"/><stop offset="0.54903" stop-color="#2aa65a"/><stop offset="0.78145" stop-color="#2aa65a"/><stop offset="0.78145" stop-color="#264f19"/><stop offset="1.00000" stop-color="#264f19"/></linearGradient><linearGradient id="g44" x1="0" y1="0" x2="0" y2="1"><stop offset="0.00000" stop-color="#ff0000"/><stop offset="0.00795" stop-color="#ff0000"/><stop offset="0.00795" stop-color="#f99b21"/><stop offset="0.02039" stop-color="#f99b21"/><stop offset="0.02039" stop-color="#fde39b"/><stop offset="0.11213" stop-color="#fde39b"/><stop offset="0.11213" stop-color="#fdfb35"/><stop offset="0.26442" stop-color="#fdfb35"/><stop offset="0.26442" stop-color="#b5d6a8"/><stop offset="0.45280" stop-color="#b5d6a8"/><stop offset="0.45280" stop-color="#2aa65a"/><stop offset="0.80000" stop-color="#2aa65a"/><stop offset="0.80000" stop-color="#264f19"/><stop offset="1.00000" stop-color="#264f19"/></linearGradient><linearGradient id="g45" x1="0" y1="0" x2="0" y2="1"><stop offset="0.00000" stop-color="#f99b21"/><stop offset="0.03262" stop-color="#f99b21"/><stop offset="0.03262" stop-color="#fde39b"/><stop offset="0.08807" stop-color="#fde39b"/><stop offset="0.08807" stop-color="#fdfb35"/><stop offset="0.33802" stop-color="#fdfb35"/><stop offset="0.33802" stop-color="#b5d6a8"/><stop offset="0.54699" stop-color="#b5d6a8"/><stop offset="0.54699" stop-color="#2aa65a"/><stop offset="0.79898" stop-color="#2aa65a"/><stop offset="0.79898" stop-color="#264f19"/><stop offset="1.00000" stop-color="#264f19"/></linearGradient><linearGradient id="g46" x1="0" y1="0" x2="0" y2="1"><stop offset="0.00000" stop-color="#ff0000"/><stop offset="0.00428" stop-color="#ff0000"/><stop offset="0.00428" stop-color="#f99b21"/><stop offset="0.01182" stop-color="#f99b21"/><stop offset="0.01182" stop-color="#fde39b"/><stop offset="0.03466" stop-color="#fde39b"/><stop offset="0.03466" stop-color="#fdfb35"/><stop offset="0.32518" stop-color="#fdfb35"/><stop offset="0.32518" stop-color="#b5d6a8"/><stop offset="0.64546" stop-color="#b5d6a8"/><stop offset="0.64546" stop-color="#2aa65a"/><stop offset="0.89439" stop-color="#2aa65a"/><stop offset="0.89439" stop-color="#264f19"/><stop offset="1.00000" stop-color="#264f19"/></linearGradient><linearGradient id="g47" x1="0" y1="0" x2="0" y2="1"><stop offset="0.00000" stop-color="#f99b21"/><stop offset="0.00815" stop-color="#f99b21"/><stop offset="0.00815" stop-color="#fde39b"/><stop offset="0.04139" stop-color="#fde39b"/><stop offset="0.04139" stop-color="#fdfb35"/><stop offset="0.25770" stop-color="#fdfb35"/><stop offset="0.25770" stop-color="#b5d6a8"/><stop offset="0.56188" stop-color="#b5d6a8"/><stop offset="0.56188" stop-color="#2aa65a"/><stop offset="0.85851" stop-color="#2aa65a"/><stop offset="0.85851" stop-color="#264f19"/><stop offset="1.00000" stop-color="#264f19"/></linearGradient><linearGradient id="g48" x1="0" y1="0" x2="0" y2="1"><stop offset="0.00000" stop-color="#fde39b"/><stop offset="0.03568" stop-color="#fde39b"/><stop offset="0.03568" stop-color="#fdfb35"/><stop offset="0.31906" stop-color="#fdfb35"/><stop offset="0.31906" stop-color="#b5d6a8"/><stop offset="0.59572" stop-color="#b5d6a8"/><stop offset="0.59572" stop-color="#2aa65a"/><stop offset="0.82324" stop-color="#2aa65a"/><stop offset="0.82324" stop-color="#264f19"/><stop offset="1.00000" stop-color="#264f19"/></linearGradient><linearGradient id="g49" x1="0" y1="0" x2="0" y2="1"><stop offset="0.00000" stop-color="#f99b21"/><stop offset="0.00428" stop-color="#f99b21"/><stop offset="0.00428" stop-color="#fde39b"/><stop offset="0.03772" stop-color="#fde39b"/><stop offset="0.03772" stop-color="#fdfb35"/><stop offset="0.34108" stop-color="#fdfb35"/><stop offset="0.34108" stop-color="#b5d6a8"/><stop offset="0.57105" stop-color="#b5d6a8"/><stop offset="0.57105" stop-color="#2aa65a"/><stop offset="0.79898" stop-color="#2aa65a"/><stop offset="0.79898" stop-color="#264f19"/><stop offset="1.00000" stop-color="#264f19"/></linearGradient><linearGradient id="g50" x1="0" y1="0" x2="0" y2="1"><stop offset="0.00000" stop-color="#fde39b"/><stop offset="0.03812" stop-color="#fde39b"/><stop offset="0.03812" stop-color="#fdfb35"/><stop offset="0.30765" stop-color="#fdfb35"/><stop offset="0.30765" stop-color="#b5d6a8"/><stop offset="0.54434" stop-color="#b5d6a8"/><stop offset="0.54434" stop-color="#2aa65a"/><stop offset="0.74393" stop-color="#2aa65a"/><stop offset="0.74393" stop-color="#264f19"/><stop offset="1.00000" stop-color="#264f19"/></linearGradient><linearGradient id="g51" x1="0" y1="0" x2="0" y2="1"><stop offset="0.00000" stop-color="#fdfb35"/><stop offset="0.35657" stop-color="#fdfb35"/><stop offset="0.35657" stop-color="#b5d6a8"/><stop offset="0.56860" stop-color="#b5d6a8"/><stop offset="0.56860" stop-color="#2aa65a"/><stop offset="0.84934" stop-color="#2aa65a"/><stop offset="0.84934" stop-color="#264f19"/><stop offset="1.00000" stop-color="#264f19"/></linearGradient><linearGradient id="g52" x1="0" y1="0" x2="0" y2="1"><stop offset="0.00000" stop-color="#fdfb35"/><stop offset="0.29643" stop-color="#fdfb35"/><stop offset="0.29643" stop-color="#b5d6a8"/><stop offset="0.60102" stop-color="#b5d6a8"/><stop offset="0.60102" stop-color="#2aa65a"/><stop offset="0.82324" stop-color="#2aa65a"/><stop offset="0.82324" stop-color="#264f19"/><stop offset="1.00000" stop-color="#264f19"/></linearGradient><linearGradient id="g53" x1="0" y1="0" x2="0" y2="1"><stop offset="0.00000" stop-color="#fde39b"/><stop offset="0.03568" stop-color="#fde39b"/><stop offset="0.03568" stop-color="#fdfb35"/><stop offset="0.30398" stop-color="#fdfb35"/><stop offset="0.30398" stop-color="#b5d6a8"/><stop offset="0.39266" stop-color="#b5d6a8"/><stop offset="0.39266" stop-color="#2aa65a"/><stop offset="0.77003" stop-color="#2aa65a"/><stop offset="0.77003" stop-color="#264f19"/><stop offset="1.00000" stop-color="#264f19"/></linearGradient><linearGradient id="g54" x1="0" y1="0" x2="0" y2="1"><stop offset="0.00000" stop-color="#fde39b"/><stop offset="0.00958" stop-color="#fde39b"/><stop offset="0.00958" stop-color="#fdfb35"/><stop offset="0.20224" stop-color="#fdfb35"/><stop offset="0.20224" stop-color="#b5d6a8"/><stop offset="0.54271" stop-color="#b5d6a8"/><stop offset="0.54271" stop-color="#2aa65a"/><stop offset="0.76126" stop-color="#2aa65a"/><stop offset="0.76126" stop-color="#264f19"/><stop offset="1.00000" stop-color="#264f19"/></linearGradient><linearGradient id="g55" x1="0" y1="0" x2="0" y2="1"><stop offset="0.00000" stop-color="#fde39b"/><stop offset="0.02752" stop-color="#fde39b"/><stop offset="0.02752" stop-color="#fdfb35"/><stop offset="0.21651" stop-color="#fdfb35"/><stop offset="0.21651" stop-color="#b5d6a8"/><stop offset="0.48869" stop-color="#b5d6a8"/><stop offset="0.48869" stop-color="#2aa65a"/><stop offset="0.78736" stop-color="#2aa65a"/><stop offset="0.78736" stop-color="#264f19"/><stop offset="1.00000" stop-color="#264f19"/></linearGradient><linearGradient id="g56" x1="0" y1="0" x2="0" y2="1"><stop offset="0.00000" stop-color="#fbbb58"/><stop offset="0.00163" stop-color="#fbbb58"/><stop offset="0.00163" stop-color="#fde39b"/><stop offset="0.01346" stop-color="#fde39b"/><stop offset="0.01346" stop-color="#fdfb35"/><stop offset="0.15596" stop-color="#fdfb35"/><stop offset="0.15596" stop-color="#b5d6a8"/><stop offset="0.53761" stop-color="#b5d6a8"/><stop offset="0.53761" stop-color="#2aa65a"/><stop offset="0.84811" stop-color="#2aa65a"/><stop offset="0.84811" stop-color="#264f19"/><stop offset="1.00000" stop-color="#264f19"/></linearGradient><linearGradient id="g57" x1="0" y1="0" x2="0" y2="1"><stop offset="0.00000" stop-color="#fdfb35"/><stop offset="0.28869" stop-color="#fdfb35"/><stop offset="0.28869" stop-color="#b5d6a8"/><stop offset="0.47074" stop-color="#b5d6a8"/><stop offset="0.47074" stop-color="#2aa65a"/><stop offset="0.62773" stop-color="#2aa65a"/><stop offset="0.62773" stop-color="#264f19"/><stop offset="1.00000" stop-color="#264f19"/></linearGradient><linearGradient id="g58" x1="0" y1="0" x2="0" y2="1"><stop offset="0.00000" stop-color="#f99b21"/><stop offset="0.00428" stop-color="#f99b21"/><stop offset="0.00428" stop-color="#fde39b"/><stop offset="0.01346" stop-color="#fde39b"/><stop offset="0.01346" stop-color="#fdfb35"/><stop offset="0.16881" stop-color="#fdfb35"/><stop offset="0.16881" stop-color="#b5d6a8"/><stop offset="0.39613" stop-color="#b5d6a8"/><stop offset="0.39613" stop-color="#2aa65a"/><stop offset="0.79898" stop-color="#2aa65a"/><stop offset="0.79898" stop-color="#264f19"/><stop offset="1.00000" stop-color="#264f19"/></linearGradient><linearGradient id="g59" x1="0" y1="0" x2="0" y2="1"><stop offset="0.00000" stop-color="#fde39b"/><stop offset="0.00958" stop-color="#fde39b"/><stop offset="0.00958" stop-color="#fdfb35"/><stop offset="0.14393" stop-color="#fdfb35"/><stop offset="0.14393" stop-color="#b5d6a8"/><stop offset="0.30928" stop-color="#b5d6a8"/><stop offset="0.30928" stop-color="#2aa65a"/><stop offset="0.69867" stop-color="#2aa65a"/><stop offset="0.69867" stop-color="#264f19"/><stop offset="1.00000" stop-color="#264f19"/></linearGradient><linearGradient id="g60" x1="0" y1="0" x2="0" y2="1"><stop offset="0.00000" stop-color="#f99b21"/><stop offset="0.00245" stop-color="#f99b21"/><stop offset="0.00245" stop-color="#fdfb35"/><stop offset="0.10438" stop-color="#fdfb35"/><stop offset="0.10438" stop-color="#b5d6a8"/><stop offset="0.36269" stop-color="#b5d6a8"/><stop offset="0.36269" stop-color="#2aa65a"/><stop offset="0.58389" stop-color="#2aa65a"/><stop offset="0.58389" stop-color="#264f19"/><stop offset="1.00000" stop-color="#264f19"/></linearGradient></defs><rect x="60.30" y="84.80" width="12.85" height="490.50" fill="url(#g0)"/><rect x="80.23" y="84.80" width="12.85" height="490.50" fill="url(#g1)"/><rect x="100.16" y="84.80" width="12.85" height="490.50" fill="url(#g2)"/><rect x="120.10" y="84.80" width="12.85" height="490.50" fill="url(#g3)"/><rect x="140.03" y="84.80" width="12.85" height="490.50" fill="url(#g4)"/><rect x="159.96" y="84.80" width="12.85" height="490.50" fill="url(#g5)"/><rect x="179.89" y="84.80" width="12.85" height="490.50" fill="url(#g6)"/><rect x="199.82" y="84.80" width="12.85" height="490.50" fill="url(#g7)"/><rect x="219.76" y="84.80" width="12.85" height="490.50" fill="url(#g8)"/><rect x="239.69" y="84.80" width="12.85" height="490.50" fill="url(#g9)"/><rect x="259.62" y="84.80" width="12.85" height="490.50" fill="url(#g10)"/><rect x="279.55" y="84.80" width="12.85" height="490.50" fill="url(#g11)"/><rect x="299.48" y="84.80" width="12.85" height="490.50" fill="url(#g12)"/><rect x="319.42" y="84.80" width="12.85" height="490.50" fill="url(#g13)"/><rect x="339.35" y="84.80" width="12.85" height="490.50" fill="url(#g14)"/><rect x="359.28" y="84.80" width="12.85" height="490.50" fill="url(#g15)"/><rect x="379.21" y="84.80" width="12.85" height="490.50" fill="url(#g16)"/><rect x="399.14" y="84.80" width="12.85" height="490.50" fill="url(#g17)"/><rect x="419.08" y="84.80" width="12.85" height="490.50" fill="url(#g18)"/><rect x="439.01" y="84.80" width="12.85" height="490.50" fill="url(#g19)"/><rect x="458.94" y="84.80" width="12.85" height="490.50" fill="url(#g20)"/><rect x="478.87" y="84.80" width="12.85" height="490.50" fill="url(#g21)"/><rect x="498.80" y="84.80" width="12.85" height="490.50" fill="url(#g22)"/><rect x="518.74" y="84.80" width="12.85" height="490.50" fill="url(#g23)"/><rect x="538.67" y="84.80" width="12.85" height="490.50" fill="url(#g24)"/><rect x="558.60" y="84.80" width="12.85" height="490.50" fill="url(#g25)"/><rect x="578.53" y="84.80" width="12.85" height="490.50" fill="url(#g26)"/><rect x="598.46" y="84.80" width="12.85" height="490.50" fill="url(#g27)"/><rect x="618.40" y="84.80" width="12.85" height="490.50" fill="url(#g28)"/><rect x="638.33" y="84.80" width="12.85" height="490.50" fill="url(#g29)"/><rect x="658.26" y="84.80" width="12.85" height="490.50" fill="url(#g30)"/><rect x="678.19" y="84.80" width="12.85" height="490.50" fill="url(#g31)"/><rect x="698.12" y="84.80" width="12.85" height="490.50" fill="url(#g32)"/><rect x="718.06" y="84.80" width="12.85" height="490.50" fill="url(#g33)"/><rect x="737.99" y="84.80" width="12.85" height="490.50" fill="url(#g34)"/><rect x="757.92" y="84.80" width="12.85" height="490.50" fill="url(#g35)"/><rect x="777.85" y="84.80" width="12.85" height="490.50" fill="url(#g36)"/><rect x="797.78" y="84.80" width="12.85" height="490.50" fill="url(#g37)"/><rect x="817.72" y="84.80" width="12.85" height="490.50" fill="url(#g38)"/><rect x="837.65" y="84.80" width="12.85" height="490.50" fill="url(#g39)"/><rect x="857.58" y="84.80" width="12.85" height="490.50" fill="url(#g40)"/><rect x="877.51" y="84.80" width="12.85" height="490.50" fill="url(#g41)"/><rect x="897.44" y="84.80" width="12.85" height="490.50" fill="url(#g42)"/><rect x="917.38" y="84.80" width="12.85" height="490.50" fill="url(#g43)"/><rect x="937.31" y="84.80" width="12.85" height="490.50" fill="url(#g44)"/><rect x="957.24" y="84.80" width="12.85" height="490.50" fill="url(#g45)"/><rect x="977.17" y="84.80" width="12.85" height="490.50" fill="url(#g46)"/><rect x="997.10" y="84.80" width="12.85" height="490.50" fill="url(#g47)"/><rect x="1017.04" y="84.80" width="12.85" height="490.50" fill="url(#g48)"/><rect x="1036.97" y="84.80" width="12.85" height="490.50" fill="url(#g49)"/><rect x="1056.90" y="84.80" width="12.85" height="490.50" fill="url(#g50)"/><rect x="1076.83" y="84.80" width="12.85" height="490.50" fill="url(#g51)"/><rect x="1096.76" y="84.80" width="12.85" height="490.50" fill="url(#g52)"/><rect x="1116.70" y="84.80" width="12.85" height="490.50" fill="url(#g53)"/><rect x="1136.63" y="84.80" width="12.85" height="490.50" fill="url(#g54)"/><rect x="1156.56" y="84.80" width="12.85" height="490.50" fill="url(#g55)"/><rect x="1176.49" y="84.80" width="12.85" height="490.50" fill="url(#g56)"/><rect x="1196.42" y="84.80" width="12.85" height="490.50" fill="url(#g57)"/><rect x="1216.36" y="84.80" width="12.85" height="490.50" fill="url(#g58)"/><rect x="1236.29" y="84.80" width="12.85" height="490.50" fill="url(#g59)"/><rect x="1256.22" y="84.80" width="12.85" height="490.50" fill="url(#g60)"/></svg>
<div class="a" style="left:53.5px;top:575.1px;width:1222.5px;height:1.5px;background:#858585"></div>
<div class="cl" style="right:1209.28px;top:578.0px">New York City</div>
<div class="cl" style="right:1189.34px;top:578.0px">Toronto</div>
<div class="cl" style="right:1169.41px;top:578.0px">Vancouver</div>
<div class="cl" style="right:1149.48px;top:578.0px">Montreal</div>
<div class="cl" style="right:1129.55px;top:578.0px">Los Angeles</div>
<div class="cl" style="right:1109.62px;top:578.0px">San Francisco</div>
<div class="cl" style="right:1089.68px;top:578.0px">Chicago</div>
<div class="cl" style="right:1069.75px;top:578.0px">Boston</div>
<div class="cl" style="right:1049.82px;top:578.0px">Calgary</div>
<div class="cl" style="right:1029.89px;top:578.0px">San Jose</div>
<div class="cl" style="right:1009.95px;top:578.0px">Philadelphia</div>
<div class="cl" style="right:990.02px;top:578.0px">Miami</div>
<div class="cl" style="right:970.09px;top:578.0px">Ottawa</div>
<div class="cl" style="right:950.16px;top:578.0px">Edmonton</div>
<div class="cl" style="right:930.23px;top:578.0px">Washington</div>
<div class="cl" style="right:910.30px;top:578.0px">San Diego</div>
<div class="cl" style="right:890.36px;top:578.0px">Las Vegas</div>
<div class="cl" style="right:870.43px;top:578.0px">Seattle</div>
<div class="cl" style="right:850.50px;top:578.0px">Honolulu</div>
<div class="cl" style="right:830.57px;top:578.0px">Denver</div>
<div class="cl" style="right:810.63px;top:578.0px">Providence</div>
<div class="cl" style="right:790.70px;top:578.0px">Milwaukee</div>
<div class="cl" style="right:770.77px;top:578.0px">Baltimore</div>
<div class="cl" style="right:750.84px;top:578.0px">Portland</div>
<div class="cl" style="right:730.91px;top:578.0px">Phoenix</div>
<div class="cl" style="right:710.98px;top:578.0px">New Orleans</div>
<div class="cl" style="right:691.04px;top:578.0px">Sacramento</div>
<div class="cl" style="right:671.11px;top:578.0px">Houston</div>
<div class="cl" style="right:651.18px;top:578.0px">Buffalo</div>
<div class="cl" style="right:631.25px;top:578.0px">Salt Lake City</div>
<div class="cl" style="right:611.32px;top:578.0px">Detroit</div>
<div class="cl" style="right:591.38px;top:578.0px">Dallas</div>
<div class="cl" style="right:571.45px;top:578.0px">Minneapolis</div>
<div class="cl" style="right:551.52px;top:578.0px">Tampa</div>
<div class="cl" style="right:531.59px;top:578.0px">Cleveland</div>
<div class="cl" style="right:511.66px;top:578.0px">Virginia Beach</div>
<div class="cl" style="right:491.72px;top:578.0px">San Antonio</div>
<div class="cl" style="right:471.79px;top:578.0px">Orlando</div>
<div class="cl" style="right:451.86px;top:578.0px">Riverside</div>
<div class="cl" style="right:431.93px;top:578.0px">Austin</div>
<div class="cl" style="right:412.00px;top:578.0px">Columbus</div>
<div class="cl" style="right:392.06px;top:578.0px">Hartford</div>
<div class="cl" style="right:372.13px;top:578.0px">Rochester</div>
<div class="cl" style="right:352.20px;top:578.0px">Tucson</div>
<div class="cl" style="right:332.27px;top:578.0px">Pittsburgh</div>
<div class="cl" style="right:312.34px;top:578.0px">St. Louis</div>
<div class="cl" style="right:292.40px;top:578.0px">Atlanta</div>
<div class="cl" style="right:272.47px;top:578.0px">Cincinnati</div>
<div class="cl" style="right:252.54px;top:578.0px">Kansas City</div>
<div class="cl" style="right:232.61px;top:578.0px">Indianapolis</div>
<div class="cl" style="right:212.68px;top:578.0px">Louisville</div>
<div class="cl" style="right:192.74px;top:578.0px">Jacksonville</div>
<div class="cl" style="right:172.81px;top:578.0px">Oklahoma City</div>
<div class="cl" style="right:152.88px;top:578.0px">Grand Rapids</div>
<div class="cl" style="right:132.95px;top:578.0px">Memphis</div>
<div class="cl" style="right:113.02px;top:578.0px">Richmond</div>
<div class="cl" style="right:93.08px;top:578.0px">Raleigh</div>
<div class="cl" style="right:73.15px;top:578.0px">Tulsa</div>
<div class="cl" style="right:53.22px;top:578.0px">Charlotte</div>
<div class="cl" style="right:33.29px;top:578.0px">Nashville</div>
<div class="cl" style="right:13.36px;top:578.0px">Birmingham</div>
<svg class="a" style="left:0;top:0" width="1280" height="634" viewBox="0 0 1280 634">
<circle cx="28" cy="319" r="36" fill="rgba(0,0,0,0.585)"/>
<polyline points="34.6,301.2 18.6,319.2 34.6,337.4" fill="none" stroke="#fff" stroke-width="3"/>
<circle cx="1240" cy="319" r="36" fill="rgba(0,0,0,0.585)"/>
<polyline points="1232.6,300.9 1248.8,319.2 1232.6,337.6" fill="none" stroke="#fff" stroke-width="3"/>
</svg>
</body></html>
